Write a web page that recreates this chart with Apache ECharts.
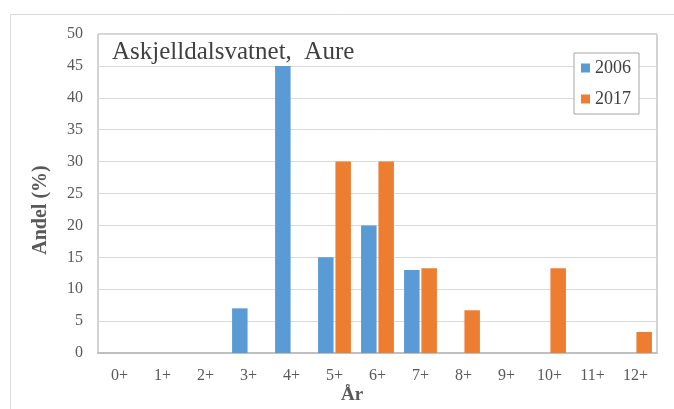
<!DOCTYPE html>
<html><head><meta charset="utf-8">
<script src="https://cdn.jsdelivr.net/npm/echarts@6/dist/echarts.min.js"></script>
<style>html,body{margin:0;padding:0;background:#fff}#c{width:674px;height:409px}</style>
</head><body><div id="c"></div>
<script>
const categories = ['0+','1+','2+','3+','4+','5+','6+','7+','8+','9+','10+','11+','12+'];
const seriesNames = ['2006','2017'];
const values2006 = [0,0,0,7,45,15,20,13,0,0,0,0,0];
const values2017 = [0,0,0,0,0,30,30,13.3,6.7,0,13.3,0,3.3];
const chartTitle = 'Askjelldalsvatnet,  Aure';
const yName = 'Andel (%)';
const xName = 'År';

const font = '"Liberation Serif", "Times New Roman", serif';
const chart = echarts.init(document.getElementById('c'));
chart.setOption({
  animation: false,
  textStyle: {fontFamily: font},
  grid: {left: 98, top: 34, right: 17, bottom: 56, show: true, borderColor: '#a6a6a6', borderWidth: 1, backgroundColor: 'transparent'},
  legend: {
    orient: 'vertical', left: 574, top: 53, data: seriesNames,
    itemWidth: 9, itemHeight: 9, itemGap: 13, padding: [6, 8, 6, 7],
    borderColor: '#a6a6a6', borderWidth: 1, backgroundColor: '#fff',
    textStyle: {fontFamily: font, fontSize: 18, color: '#404040'},
    icon: 'rect'
  },
  xAxis: {
    type: 'category', data: categories,
    axisLine: {lineStyle: {color: '#bfbfbf', width: 2}},
    axisTick: {show: false},
    axisLabel: {fontFamily: font, fontSize: 16, color: '#595959', margin: 15}
  },
  yAxis: {
    type: 'value', min: 0, max: 50, interval: 5,
    axisLine: {show: false}, axisTick: {show: false},
    splitLine: {lineStyle: {color: '#d9d9d9', width: 1}},
    axisLabel: {fontFamily: font, fontSize: 16, color: '#595959', margin: 15}
  },
  series: [
    {name: seriesNames[0], type: 'bar', data: values2006, barWidth: 15.5, barGap: '12%',
     itemStyle: {color: '#5b9bd5'}},
    {name: seriesNames[1], type: 'bar', data: values2017, barWidth: 15.5,
     itemStyle: {color: '#ed7d31'}}
  ],
  graphic: [
    {type: 'rect', left: 8, top: 12, z: -10, silent: true,
     shape: {width: 700, height: 420}, style: {fill: 'none', stroke: '#d9d9d9', lineWidth: 1}},
    {type: 'text', left: 112, top: 40, z: 10,
     style: {text: chartTitle, font: '25px ' + font, fill: '#404040'}},
    {type: 'text', x: 41, y: 210, rotation: Math.PI / 2, z: 10,
     style: {text: yName, font: 'bold 20px ' + font, fill: '#595959', align: 'center', verticalAlign: 'middle'}},
    {type: 'text', x: 352, y: 395, z: 10,
     style: {text: xName, font: 'bold 19px ' + font, fill: '#595959', align: 'center', verticalAlign: 'middle'}}
  ]
});
</script></body></html>
